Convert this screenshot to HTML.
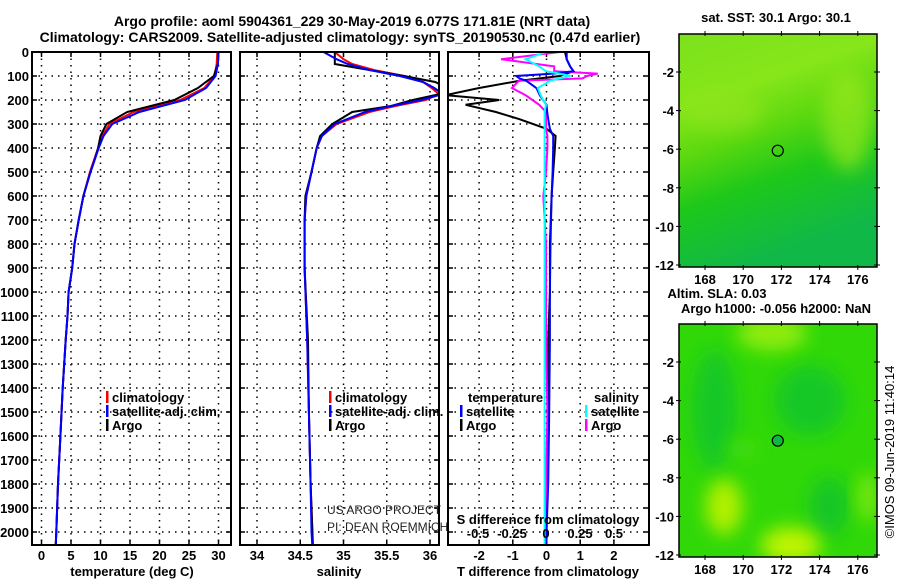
<!DOCTYPE html>
<html><head><meta charset="utf-8"><style>
body{margin:0;background:#fff;}
svg text{font-family:"Liberation Sans",sans-serif;}
</style></head><body>
<svg id="c" width="900" height="580" xmlns="http://www.w3.org/2000/svg">
<defs>
<linearGradient id="sstg" x1="0" y1="0" x2="0.3" y2="1">
<stop offset="0" stop-color="#7ce21c"/><stop offset="0.3" stop-color="#86e61a"/><stop offset="0.5" stop-color="#5ad810"/><stop offset="0.7" stop-color="#1ec81a"/><stop offset="1" stop-color="#10b848"/></linearGradient>
<filter id="bl" x="-50%" y="-50%" width="200%" height="200%"><feGaussianBlur stdDeviation="9"/></filter>
<clipPath id="m1c"><rect x="679" y="34" width="198" height="233"/></clipPath>
<clipPath id="m2c"><rect x="679" y="324" width="198" height="233"/></clipPath>
<clipPath id="p1c"><rect x="32" y="52" width="199" height="493"/></clipPath>
<clipPath id="p2c"><rect x="240" y="52" width="199" height="493"/></clipPath>
<clipPath id="p3c"><rect x="448" y="52" width="201" height="493"/></clipPath>
</defs>
<g font-weight="bold" font-size="14" text-anchor="middle">
<text x="352" y="26">Argo profile: aoml 5904361_229 30-May-2019 6.077S 171.81E (NRT data)</text>
<text x="340" y="42">Climatology: CARS2009. Satellite-adjusted climatology: synTS_20190530.nc (0.47d earlier)</text>
</g>
<g id="plots"></g>
<g id="maps"></g>
</svg>
<script>
// ---- data ----
const depthT = [0,50,100,150,200,250,300,350,400,450,500,600,700,800,900,1000,1100,1200,1400,1600,1800,2000,2060];
const tempClim = [29.8,29.7,29.3,27.6,23.5,15.6,11.5,10.3,9.6,8.9,8.2,7.1,6.3,5.6,5.2,4.6,4.4,4.1,3.6,3.2,2.8,2.5,2.4];
const tempSat = [30.0,29.9,29.5,27.9,24.3,16.6,12.0,10.5,9.7,9.0,8.3,7.1,6.3,5.6,5.2,4.6,4.4,4.1,3.6,3.2,2.8,2.5,2.4];
const tempArgo = [30.0,29.9,29.2,26.5,22.5,14.5,11.0,10.0,9.6,9.0,8.3,7.1,6.3,5.6,5.2,4.6,4.4,4.1,3.6,3.2,2.8,2.5,2.4];
const depthS = [0,30,50,75,100,125,150,175,200,225,250,300,350,400,500,600,700,900,1200,1500,1800,2000,2060];
const salClim = [34.9,35.0,35.1,35.35,35.7,35.92,36.02,36.1,35.95,35.6,35.3,34.92,34.75,34.69,34.63,34.57,34.55,34.55,34.58,34.6,34.62,34.64,34.65];
const salSat = [34.77,34.92,35.05,35.3,35.65,35.92,36.05,36.15,35.9,35.55,35.25,34.9,34.75,34.69,34.63,34.57,34.55,34.55,34.58,34.6,34.62,34.63,34.64];
const salArgo = [34.9,34.9,34.9,35.3,35.7,36.06,36.2,36.12,35.8,35.55,35.1,34.87,34.73,34.69,34.63,34.56,34.55,34.55,34.59,34.6,34.62,34.64,34.64];
const depthD = [0,30,60,80,90,100,110,120,150,180,200,220,250,280,320,350,400,500,600,800,1000,1200,1500,1800,2000,2060];
const dTsat = [0.6,0.6,0.7,0.8,0.2,-0.9,-0.8,-0.6,-0.3,-0.2,-0.1,0.0,0.02,0.05,0.1,0.2,0.2,0.18,0.15,0.12,0.1,0.1,0.08,0.05,0.0,0.0];
const dTargo = [0.55,0.6,0.7,0.8,0.6,0.4,-0.2,-0.8,-2.0,-3.0,-1.4,-2.4,-1.5,-0.8,0.0,0.27,0.25,0.2,0.15,0.1,0.1,0.05,0.05,0.02,0.0,0.0];
const dSsat = [0.0,-0.15,-0.05,0.0,0.1,0.18,0.1,0.03,-0.06,-0.04,-0.02,0.0,-0.01,-0.01,-0.01,-0.01,-0.01,-0.01,-0.01,-0.01,-0.01,-0.01,-0.01,-0.01,-0.01,-0.01];
const dSargo = [0.1,-0.33,0.06,0.06,0.38,0.3,0.27,-0.2,-0.25,-0.15,-0.1,-0.05,0.0,0.0,0.0,0.01,0.01,0.0,-0.02,0.0,0.0,0.0,0.01,0.0,0.0,0.0];
const depthTicks = [0,100,200,300,400,500,600,700,800,900,1000,1100,1200,1300,1400,1500,1600,1700,1800,1900,2000];
const tTicks = [0,5,10,15,20,25,30];
const sTicks = [34,34.5,35,35.5,36];
const dtTicks = [-2,-1,0,1,2];
const dsTicks = [-0.5,-0.25,0,0.25,0.5];
const latTicks = [-2,-4,-6,-8,-10,-12];
const lonTicks = [168,170,172,174,176];
const argoLon = 171.81, argoLat = -6.077;

const NS='http://www.w3.org/2000/svg';
const plots=document.getElementById('plots'), maps=document.getElementById('maps');
function mk(tag,attrs,parent,txt){const e=document.createElementNS(NS,tag);for(const k in attrs)e.setAttribute(k,attrs[k]);if(txt!==undefined)e.textContent=txt;(parent||plots).appendChild(e);return e;}
const yD = d => 52 + d*0.24;
const xT = t => 41.5 + t*5.9;
const xS = s => 257 + (s-34)*86.5;
const xDT = v => 546.5 + v*33.7;
const xDS = v => 546 + v*136;

function frame(x0,x1,name){
  const g=mk('g',{});
  
  
  depthTicks.forEach(d=>{mk('line',{x1:x0,x2:x1,y1:yD(d),y2:yD(d),stroke:'#000','stroke-width':1.5,'stroke-dasharray':'1.5,5'},g);
    mk('line',{x1:x0,x2:x0+5,y1:yD(d),y2:yD(d),stroke:'#000','stroke-width':1.5},g);
    mk('line',{x1:x1-5,x2:x1,y1:yD(d),y2:yD(d),stroke:'#000','stroke-width':1.5},g);});
  return g;
}
function vgrid(g,ticks,fx){ticks.forEach(t=>{const x=fx(t);mk('line',{x1:x,x2:x,y1:52,y2:545,stroke:'#000','stroke-width':1.5,'stroke-dasharray':'1.5,5'},g);
  mk('line',{x1:x,x2:x,y1:52,y2:57,stroke:'#000','stroke-width':1.5},g);mk('line',{x1:x,x2:x,y1:540,y2:545,stroke:'#000','stroke-width':1.5},g);});}
function border(x0,x1){mk('rect',{x:x0,y:52,width:x1-x0,height:493,fill:'none',stroke:'#000','stroke-width':2});}
function line(depths,vals,fx,color,clip,name,w){
  const p=mk('polyline',{points:depths.map((d,i)=>fx(vals[i]).toFixed(1)+','+yD(d).toFixed(1)).join(' '),fill:'none',stroke:color,'stroke-width':w||2,'clip-path':'url(#'+clip+')'});
  
  
}
function txt(x,y,s,name,opts){const o=Object.assign({x:x,y:y,'font-size':13,'font-weight':'bold'},opts||{});const t=mk('text',o,opts&&opts.parent,s);return t;}

// panel 1
let g1=frame(32,231,'temperature-panel'); vgrid(g1,tTicks,xT);
line(depthT,tempClim,xT,'#f00','p1c','temp-climatology-line');
line(depthT,tempArgo,xT,'#000','p1c','temp-argo-line');
line(depthT,tempSat,xT,'#00f','p1c','temp-satellite-line');
border(32,231);
depthTicks.forEach(d=>txt(29,yD(d)+5,String(d),'depth-tick-label',{'text-anchor':'end'}));
tTicks.forEach(t=>txt(xT(t),560,String(t),'temp-tick-label',{'text-anchor':'middle'}));
txt(132,576,'temperature (deg C)','temp-axis-title',{'text-anchor':'middle'});
// panel 2
let g2=frame(240,439,'salinity-panel'); vgrid(g2,sTicks,xS);
line(depthS,salClim,xS,'#f00','p2c','sal-climatology-line');
line(depthS,salArgo,xS,'#000','p2c','sal-argo-line');
line(depthS,salSat,xS,'#00f','p2c','sal-satellite-line');
border(240,439);
sTicks.forEach(t=>txt(xS(t),560,String(t),'sal-tick-label',{'text-anchor':'middle'}));
txt(339,576,'salinity','sal-axis-title',{'text-anchor':'middle'});
txt(327,514,'US ARGO PROJECT','watermark-project',{'font-weight':'normal','font-size':12,fill:'#222'});
txt(327,531,'PI: DEAN ROEMMICH','watermark-pi',{'font-weight':'normal','font-size':12,fill:'#222'});
// panel 3
let g3=frame(448,649,'difference-panel'); vgrid(g3,dtTicks,xDT);
line(depthD,dTargo,xDT,'#000','p3c','dT-argo-line');
line(depthD,dSargo,xDS,'#f0f','p3c','dS-argo-line');
line(depthD,dTsat,xDT,'#00f','p3c','dT-satellite-line');
line(depthD,dSsat,xDS,'#0ff','p3c','dS-satellite-line');
border(448,649);
dtTicks.forEach(t=>txt(xDT(t),560,String(t),'dT-tick-label',{'text-anchor':'middle'}));
dsTicks.forEach(t=>txt(xDS(t),538,String(t),'dS-tick-label',{'text-anchor':'middle'}));
txt(548,576,'T difference from climatology','dT-axis-title',{'text-anchor':'middle'});
txt(548,524,'S difference from climatology','dS-axis-title',{'text-anchor':'middle'});

// legends
function leg(x,y,color,label,name){const r=mk('rect',{x:x,y:y-11,width:2.5,height:12,fill:color});txt(x+6,y,label,name);}
leg(106,402,'#f00','climatology','legend-temp-climatology');
leg(106,416,'#00f','satellite-adj. clim.','legend-temp-satellite');
leg(106,430,'#000','Argo','legend-temp-argo');
leg(329,402,'#f00','climatology','legend-sal-climatology');
leg(329,416,'#00f','satellite-adj. clim.','legend-sal-satellite');
leg(329,430,'#000','Argo','legend-sal-argo');
txt(468,402,'temperature','legend-temperature-heading');
leg(460,416,'#00f','satellite','legend-dT-satellite');
leg(460,430,'#000','Argo','legend-dT-argo');
txt(594,402,'salinity','legend-salinity-heading');
leg(585,416,'#0ff','satellite','legend-dS-satellite');
leg(585,430,'#f0f','Argo','legend-dS-argo');

// maps
const xL = lon => 705 + (lon-168)*19.1;
function map(y0,name,title,kind){
  const g=mk('g',{},maps);  
  const yL = lat => y0 + 38 + (-2-lat)*19.3;
  const cg=mk('g',{'clip-path':'url(#'+(kind==1?'m1c':'m2c')+')'},g);
  if(kind==1){
    mk('rect',{x:679,y:y0,width:198,height:233,fill:'url(#sstg)'},cg);
    mk('ellipse',{cx:xL(175.5),cy:yL(-4.5),rx:25,ry:50,fill:'#9ae81c',opacity:0.7,filter:'url(#bl)'},cg);
    mk('ellipse',{cx:xL(169),cy:yL(-4),rx:40,ry:20,fill:'#90e41e',opacity:0.7,filter:'url(#bl)'},cg);
  } else {
    mk('rect',{x:679,y:y0,width:198,height:233,fill:'#30d808'},cg);
    [[168.5,-4.5,22,60,'#14c828'],[173.5,-4,35,35,'#12c828'],[174.5,-9.5,20,30,'#12c626'],[171.5,-0.5,35,18,'#90ec10'],[169,-9.5,18,28,'#b4f000'],[172.5,-11.5,30,18,'#c0f400'],[176.5,-9,10,25,'#7ee80c'],[170,-6.5,15,10,'#44dc08']]
      .forEach(b=>mk('ellipse',{cx:xL(b[0]),cy:yL(b[1]),rx:b[2],ry:b[3],fill:b[4],filter:'url(#bl)'},cg));
  }
  const c=mk('circle',{cx:xL(argoLon),cy:yL(argoLat),r:5.5,fill:kind==2?'#10b840':'none',stroke:'#000','stroke-width':1.2},g);
   
  mk('rect',{x:679,y:y0,width:198,height:233,fill:'none',stroke:'#000','stroke-width':1.5},g);
  latTicks.forEach(l=>{const y=yL(l);mk('line',{x1:874,x2:880,y1:y,y2:y,stroke:'#000'},g);mk('line',{x1:676,x2:681,y1:y,y2:y,stroke:'#000'},g);
    txt(674,y+5,String(l),'lat-tick-label',{'text-anchor':'end',parent:g});});
  lonTicks.forEach(l=>{const x=xL(l);mk('line',{x1:x,x2:x,y1:y0-3,y2:y0+2,stroke:'#000'},g);mk('line',{x1:x,x2:x,y1:y0+231,y2:y0+236,stroke:'#000'},g);
    txt(x,y0+250,String(l),'lon-tick-label',{'text-anchor':'middle',parent:g});});
  title.forEach((t,i)=>txt(kind==1?776:(i==0?717:776),(kind==1?y0-12:y0-26)+i*15,t,'map-title',{'text-anchor':'middle',parent:g}));
}
map(34,'sst-map',['sat. SST: 30.1 Argo: 30.1'],1);
map(324,'sla-map',['Altim. SLA: 0.03','Argo h1000: -0.056 h2000: NaN'],2);
const ts=txt(0,0,'©IMOS 09-Jun-2019 11:40:14','timestamp',{'font-weight':'normal','font-size':13,'text-anchor':'middle',transform:'translate(894,452) rotate(-90)'});
</script>
</body></html>
